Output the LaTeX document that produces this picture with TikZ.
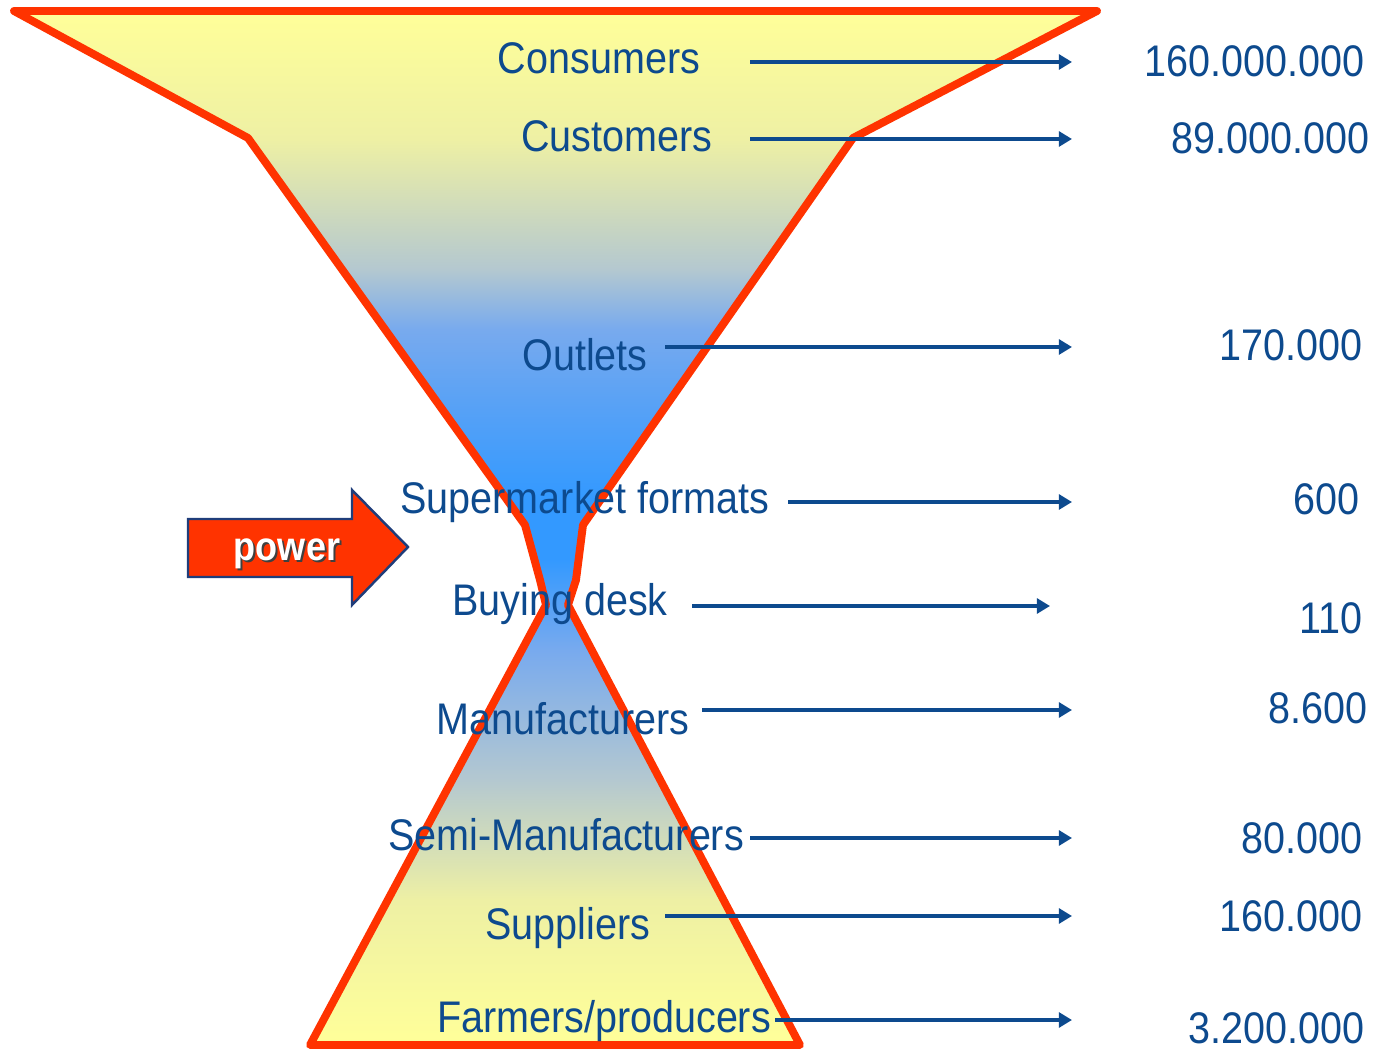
\documentclass[tikz,border=0pt]{standalone}
\usepackage{fontspec}
\setmainfont{Liberation Sans}
\usetikzlibrary{arrows.meta}
\definecolor{FunnelRed}{HTML}{FF3300}
\definecolor{LabelBlue}{HTML}{0D4A8E}
\definecolor{ArrowEdge}{HTML}{1F3D7A}
\definecolor{FunYellow}{HTML}{FFFF99}
\definecolor{FunPale}{HTML}{EEF0A4}
\definecolor{FunGrey}{HTML}{B4C8D0}
\definecolor{FunSky}{HTML}{78AAEE}
\definecolor{FunBlue}{HTML}{3399FF}
\definecolor{FunMid}{HTML}{5AA2F5}
% vertical colour run of the hourglass, bottom (25bp) to top (75bp)
\pgfdeclareverticalshading{hourglass}{100bp}{%
  color(0bp)=(FunYellow); color(25bp)=(FunYellow); color(32bp)=(FunPale);
  color(37.8bp)=(FunGrey); color(44.1bp)=(FunSky); color(48.5bp)=(FunBlue);
  color(51.4bp)=(FunBlue); color(56.2bp)=(FunMid); color(59.6bp)=(FunSky);
  color(62.5bp)=(FunGrey); color(68.8bp)=(FunPale); color(75bp)=(FunYellow);
  color(100bp)=(FunYellow)}

\begin{document}
\begin{tikzpicture}[x=0.02cm,y=-0.02cm,
  lbl/.style={font=\fontsize{22.5}{26}\selectfont,text=LabelBlue,inner sep=0pt,
    anchor=base,yscale=1.12,transform shape},
  num/.style={lbl,anchor=base east},
  flow/.style={-{Triangle[length=7.5pt,width=8.5pt]},draw=LabelBlue,line width=2pt}]
  \useasboundingbox (0,0) rectangle (1380,1050);
  % hourglass
  \fill[shading=hourglass] (14,11) -- (1097,11) -- (853,138) -- (583,525) -- (576,580)
    -- (568,605) -- (800,1045) -- (310,1045) -- (546,605) -- (540,580) -- (525,525)
    -- (248,138) -- cycle;
  \draw[FunnelRed,line width=4.5pt,line join=round] (14,11) -- (1097,11) -- (853,138)
    -- (583,525) -- (576,580) -- (568,605) -- (800,1045) -- (310,1045) -- (546,605)
    -- (540,580) -- (525,525) -- (248,138) -- cycle;

  % labels on the hourglass
  \node[lbl] (cons) at (599,74)  {Consumers};
  \node[lbl] (cust) at (617,152) {Customers};
  \node[lbl] (outl) at (585,371) {Outlets};
  \node[lbl] (superm) at (585,514) {Supermarket formats};
  \node[lbl] (buy)  at (560,616) {Buying desk};
  \node[lbl] (manuf) at (563,734) {Manufacturers};
  \node[lbl] (semi) at (566,850) {Semi-Manufacturers};
  \node[lbl] (suppl) at (568,939) {Suppliers};
  \node[lbl] (farm) at (604,1032) {Farmers/producers};

  % counts
  \node[num] (n-cons) at (1365,77)  {160.000.000};
  \node[num] (n-cust) at (1370,154) {89.000.000};
  \node[num] (n-outl) at (1363,361) {170.000};
  \node[num] (n-superm) at (1360,515) {600};
  \node[num] (n-buy)  at (1363,634) {110};
  \node[num] (n-manuf) at (1368,724) {8.600};
  \node[num] (n-semi) at (1363,853) {80.000};
  \node[num] (n-suppl) at (1363,931) {160.000};
  \node[num] (n-farm) at (1365,1043) {3.200.000};

  % pointers
  \foreach \a/\xa/\xb/\yy in {cons/750/1072/62, cust/750/1072/139, outl/665/1072/347,
      superm/788/1072/502, buy/692/1050/606, manuf/702/1072/710, semi/750/1072/838,
      suppl/665/1072/916, farm/775/1072/1020}{
    \coordinate (\a-s) at (\xa,\yy);
    \coordinate (\a-e) at (\xb,\yy);
    \draw[flow] (\a-s) -- (\a-e);
  }

  % power arrow
  \draw[fill=FunnelRed,draw=ArrowEdge,line width=1.4pt,line join=miter]
    (188,519) -- (352,519) -- (352,490) -- (408,547) -- (352,605) -- (352,577)
    -- (188,577) -- cycle;
  \node[font=\bfseries\fontsize{20.5}{24}\selectfont,text=black!75,inner sep=0pt,
    anchor=base,yscale=1.12,transform shape] (pwr-sh) at (289,563) {power};
  \node[font=\bfseries\fontsize{20.5}{24}\selectfont,text=white,inner sep=0pt,
    anchor=base,yscale=1.12,transform shape] (pwr) at (287,561) {power};
\end{tikzpicture}
\end{document}
